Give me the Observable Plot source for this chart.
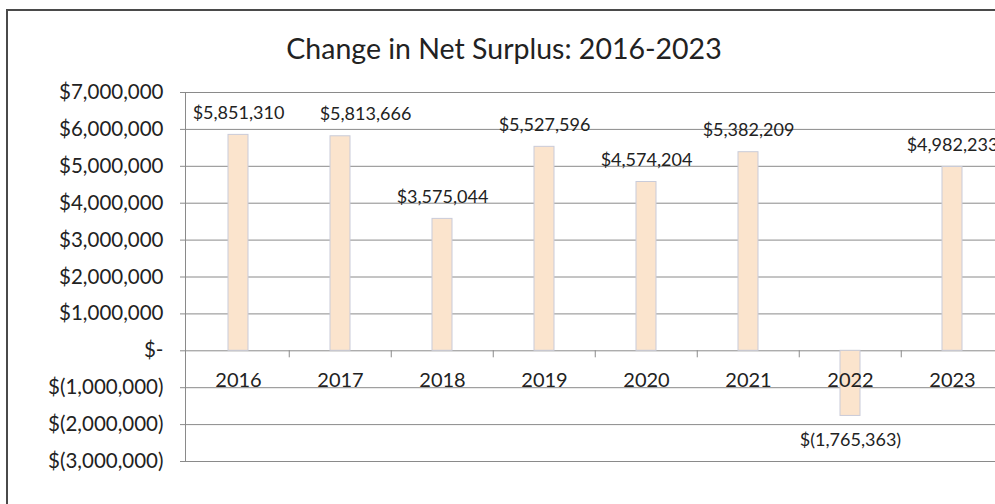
<!DOCTYPE html>
<html>
<head>
<meta charset="utf-8">
<script src="https://cdn.jsdelivr.net/npm/d3@7"></script>
<script src="https://cdn.jsdelivr.net/npm/@observablehq/plot@0.6"></script>
<style>
  html, body { margin: 0; padding: 0; background: #fff; }
  #wrap { position: relative; width: 995px; height: 504px; overflow: hidden; font-family: Lato, sans-serif; }
  #border { position: absolute; left: 6px; top: 9px; width: 1200px; height: 600px; border: 2px solid #4a4a4a; box-sizing: border-box; }
  #title { position: absolute; left: 0; width: 1008px; top: 29px; text-align: center; font-size: 28.5px; color: #222; line-height: 38px; }
  #chart { position: absolute; left: 0; top: 0; }
</style>
</head>
<body>
<div id="wrap">
  <div id="border"></div>
  <div id="chart"></div>
  <div id="title">Change in Net Surplus: 2016-2023</div>
</div>
<script>
const years = ["2016", "2017", "2018", "2019", "2020", "2021", "2022", "2023"];
const values = [5851310, 5813666, 3575044, 5527596, 4574204, 5382209, -1765363, 4982233];
const yTicks = [-3000000, -2000000, -1000000, 0, 1000000, 2000000, 3000000, 4000000, 5000000, 6000000, 7000000];
const nudgedLabelYears = ["2017"];

const data = years.map((year, i) => ({year, value: values[i]}));
const comma = d3.format(",");
const money = v => v === 0 ? "$-" : v < 0 ? "$(" + comma(-v) + ")" : "$" + comma(v);

const step = (1005 - 185) / years.length;
const labelFont = 18;

const chart = Plot.plot({
  width: 995,
  height: 504,
  marginTop: 92,
  marginBottom: 43,
  marginLeft: 185,
  marginRight: 0,
  style: {fontFamily: "Lato, sans-serif", fontSize: "20px", color: "#222", background: "transparent", overflow: "visible"},
  x: {domain: years, range: [185, 1005], paddingInner: 0.8, paddingOuter: 0.4, axis: null},
  y: {domain: [-3000000, 7000000], range: [461, 92], axis: null},
  marks: [
    Plot.gridY(yTicks, {stroke: "#8a8a8a", strokeOpacity: 1, strokeWidth: 1}),
    Plot.axisY(yTicks, {tickSize: 5, tickPadding: 17, tickFormat: money, stroke: "#8a8a8a", fill: "#222", fontSize: 20.5, label: null}),
    Plot.frame({anchor: "left", stroke: "#8a8a8a"}),
    Plot.barY(data, {x: "year", y: "value", fill: "#fbe4cd", stroke: "#c9cbd9", strokeWidth: 1}),
    Plot.ruleX(years.slice(1), {x: d => d, y1: 0, y2: -190000, dx: -step / 2, stroke: "#8a8a8a"}),
    Plot.text(years, {x: d => d, y: () => 0, dy: 30, text: d => d, fontSize: 20, fill: "#222"}),
    Plot.text(data.filter(d => d.value >= 0 && !nudgedLabelYears.includes(d.year)), {x: "year", y: "value", dy: -22, text: d => money(d.value), fontSize: labelFont, fill: "#222"}),
    Plot.text(data.filter(d => nudgedLabelYears.includes(d.year)), {x: "year", y: "value", dy: -22, dx: 25, text: d => money(d.value), fontSize: labelFont, fill: "#222"}),
    Plot.text(data.filter(d => d.value < 0), {x: "year", y: "value", dy: 24, text: d => money(d.value), fontSize: labelFont, fill: "#222"})
  ]
});
document.getElementById("chart").appendChild(chart);
</script>
</body>
</html>
